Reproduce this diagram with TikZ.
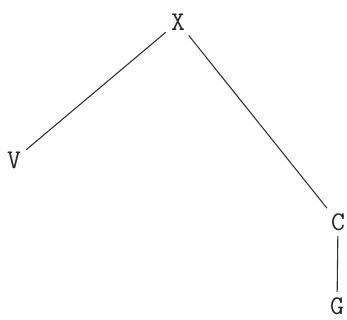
\documentclass[tikz,border=0pt]{standalone}
\begin{document}
\begin{tikzpicture}[x=1pt,y=1pt,
  lbl/.style={font=\fontsize{27}{30}\selectfont\ttfamily, inner sep=5pt, text=black!85},
  edge/.style={line width=1.1pt, black!80}]
\useasboundingbox (0,0) rectangle (347,320);
\node[lbl] (x) at (178,298) {X};
\node[lbl] (v) at (14,160) {V};
\node[lbl] (c) at (338,98) {C};
\node[lbl] (g) at (337,14) {G};
\draw[edge] (x) -- (v);
\draw[edge] (x) -- (c);
\draw[edge] (c) -- (g);
\end{tikzpicture}
\end{document}
